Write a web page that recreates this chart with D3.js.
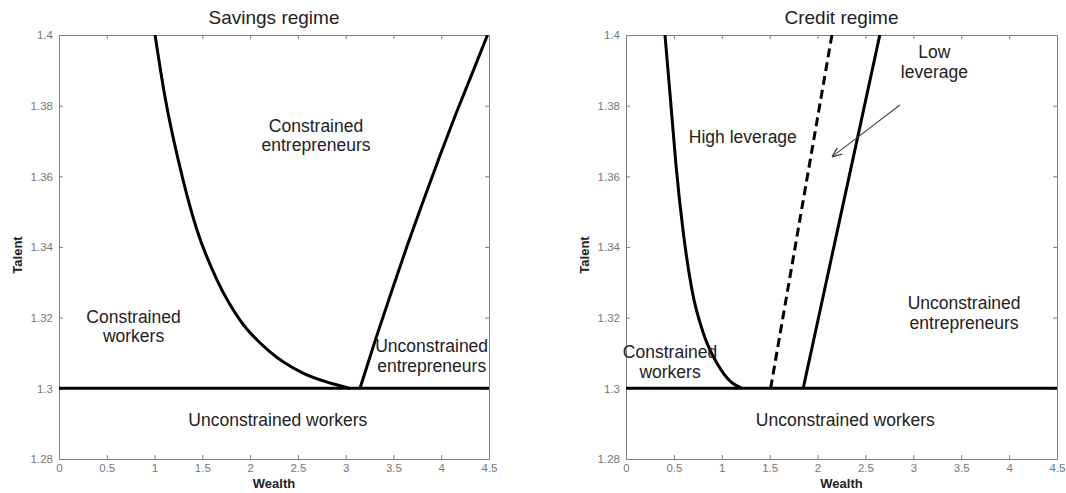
<!DOCTYPE html>
<html lang="en">
<head>
    <meta charset="UTF-8">
    <title>Savings and credit regimes</title>
    <script src="https://d3js.org/d3.v7.min.js"></script>
    <style>
        body { margin: 0; background: #fff; }
        svg { font-family: "Liberation Sans", Arial, sans-serif; }
        .axis path, .axis line { stroke: #808080; }
        .axis text { fill: #777; font-size: 11.5px; }
        .boundary { fill: none; stroke: #000; stroke-width: 3; }
        .label { fill: #222; font-size: 17.5px; text-anchor: middle; }
    </style>
</head>
<body>
<script>
    // Tick values
    var wealthTicks = [0, 0.5, 1, 1.5, 2, 2.5, 3, 3.5, 4, 4.5];
    var talentTicks = [1.28, 1.3, 1.32, 1.34, 1.36, 1.38, 1.4];
    var threshold = 1.3;

    // Savings regime boundaries (wealth, talent)
    var savingsLeft = [
        [1.005, 1.4], [1.109, 1.3825], [1.298, 1.359], [1.444, 1.3448], [1.653, 1.3307],
        [1.894, 1.3193], [2.208, 1.3103], [2.553, 1.3043], [2.836, 1.3015], [3.045, 1.3]
    ];
    var savingsRight = [
        [3.15, 1.3], [3.317, 1.3142], [3.485, 1.3278], [3.652, 1.341], [3.82, 1.3536],
        [3.987, 1.3659], [4.154, 1.3777], [4.322, 1.389], [4.484, 1.4]
    ];

    // Credit regime boundaries
    var creditLeft = [
        [0.407, 1.4], [0.465, 1.3816], [0.522, 1.3632], [0.595, 1.3448], [0.689, 1.3278],
        [0.814, 1.3151], [0.961, 1.3066], [1.096, 1.3018], [1.211, 1.3]
    ];
    var creditHigh = [[1.51, 1.3], [1.83, 1.35], [2.15, 1.4]];
    var creditLow = [[1.85, 1.3], [2.25, 1.35], [2.65, 1.4]];
    var creditArrow = [[2.86, 1.3802], [2.15, 1.3655]];

    // Region labels: [wealth, talent, lines]
    var savingsLabels = [
        [2.69, 1.3726, ["Constrained", "entrepreneurs"]],
        [0.78, 1.3186, ["Constrained", "workers"]],
        [3.9, 1.3102, ["Unconstrained", "entrepreneurs"]],
        [2.29, 1.2892, ["Unconstrained workers"]]
    ];
    var creditLabels = [
        [3.22, 1.3934, ["Low", "leverage"]],
        [1.22, 1.3693, ["High leverage"]],
        [3.53, 1.3224, ["Unconstrained", "entrepreneurs"]],
        [0.46, 1.3085, ["Constrained", "workers"]],
        [2.29, 1.2892, ["Unconstrained workers"]]
    ];

    var W = 1066, H = 493;
    var plotTop = 35, plotBottom = 459;

    var svg = d3.select("body").append("svg")
        .attr("width", W)
        .attr("height", H);

    var defs = svg.append("defs");
    defs.append("marker")
        .attr("id", "arrowhead")
        .attr("viewBox", "0 0 10 10")
        .attr("refX", 10).attr("refY", 5)
        .attr("markerWidth", 10).attr("markerHeight", 10)
        .attr("markerUnits", "userSpaceOnUse")
        .attr("orient", "auto")
        .append("path")
        .attr("d", "M0,1 L10,5 L0,9")
        .attr("fill", "none")
        .attr("stroke", "#444")
        .attr("stroke-width", 1.3);

    function panel(opts) {
        var x = d3.scaleLinear().domain([0, 4.5]).range([opts.left, opts.right]);
        var y = d3.scaleLinear().domain([1.28, 1.4]).range([plotBottom, plotTop]);
        var g = svg.append("g");

        var clipId = "clip" + opts.id;
        defs.append("clipPath").attr("id", clipId)
            .append("rect")
            .attr("x", opts.left).attr("y", plotTop)
            .attr("width", opts.right - opts.left).attr("height", plotBottom - plotTop);

        // Axes box, MATLAB style inward ticks
        g.append("g").attr("class", "axis")
            .attr("transform", "translate(0," + plotBottom + ")")
            .call(d3.axisBottom(x).tickValues(wealthTicks).tickFormat(d3.format("~g"))
                .tickSizeInner(-4).tickSizeOuter(0).tickPadding(5));
        g.append("g").attr("class", "axis")
            .attr("transform", "translate(0," + plotTop + ")")
            .call(d3.axisTop(x).tickValues(wealthTicks).tickFormat("")
                .tickSizeInner(-4).tickSizeOuter(0));
        g.append("g").attr("class", "axis")
            .attr("transform", "translate(" + opts.left + ",0)")
            .call(d3.axisLeft(y).tickValues(talentTicks).tickFormat(d3.format("~g"))
                .tickSizeInner(-4).tickSizeOuter(0).tickPadding(6));
        g.append("g").attr("class", "axis")
            .attr("transform", "translate(" + opts.right + ",0)")
            .call(d3.axisRight(y).tickValues(talentTicks).tickFormat("")
                .tickSizeInner(-4).tickSizeOuter(0));
        g.selectAll(".axis .domain").attr("stroke", "#808080");

        var line = d3.line()
            .x(function(d) { return x(d[0]); })
            .y(function(d) { return y(d[1]); })
            .curve(d3.curveMonotoneX);

        var plot = g.append("g").attr("clip-path", "url(#" + clipId + ")");

        plot.append("line")
            .attr("class", "boundary")
            .attr("x1", x(0)).attr("x2", x(4.5))
            .attr("y1", y(threshold)).attr("y2", y(threshold));

        opts.curves.forEach(function(c) {
            plot.append("path")
                .datum(c.data)
                .attr("class", "boundary")
                .attr("stroke-dasharray", c.dashed ? "9,5" : null)
                .attr("d", line);
        });

        if (opts.arrow) {
            g.append("line")
                .attr("x1", x(opts.arrow[0][0])).attr("y1", y(opts.arrow[0][1]))
                .attr("x2", x(opts.arrow[1][0])).attr("y2", y(opts.arrow[1][1]))
                .attr("stroke", "#444").attr("stroke-width", 1.1)
                .attr("marker-end", "url(#arrowhead)");
        }

        opts.labels.forEach(function(l) {
            var t = g.append("text").attr("class", "label")
                .attr("x", x(l[0])).attr("y", y(l[1]));
            l[2].forEach(function(s, i) {
                t.append("tspan").attr("x", x(l[0])).attr("dy", i === 0 ? 0 : 19.5).text(s);
            });
        });

        // Title
        g.append("text")
            .attr("x", (opts.left + opts.right) / 2).attr("y", 24)
            .attr("text-anchor", "middle")
            .attr("fill", "#222").attr("font-size", "19px")
            .text(opts.title);

        // Axis labels
        g.append("text")
            .attr("x", (opts.left + opts.right) / 2).attr("y", 488)
            .attr("text-anchor", "middle")
            .attr("fill", "#222").attr("font-size", "13px").attr("font-weight", "bold")
            .text("Wealth");
        g.append("text")
            .attr("transform", "translate(" + (opts.left - 37) + "," + 255 + ") rotate(-90)")
            .attr("text-anchor", "middle")
            .attr("fill", "#222").attr("font-size", "13px").attr("font-weight", "bold")
            .text("Talent");
    }

    panel({
        id: 1, left: 59, right: 489, title: "Savings regime",
        curves: [{ data: savingsLeft }, { data: savingsRight }],
        labels: savingsLabels
    });

    panel({
        id: 2, left: 626, right: 1057, title: "Credit regime",
        curves: [{ data: creditLeft }, { data: creditHigh, dashed: true }, { data: creditLow }],
        arrow: creditArrow,
        labels: creditLabels
    });
</script>
</body>
</html>
